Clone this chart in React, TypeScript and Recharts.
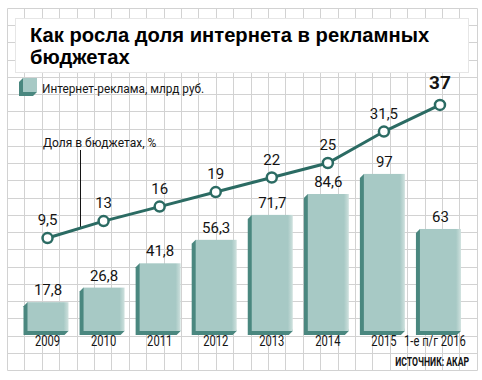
import { Bar, ComposedChart, LabelList, Line, XAxis, YAxis } from 'recharts';

// values
const YEARS = ['2009', '2010', '2011', '2012', '2013', '2014', '2015', '1-е п/г 2016'];
const AD_SPEND = [17.8, 26.8, 41.8, 56.3, 71.7, 84.6, 97, 63]; // млрд руб.
const BUDGET_SHARE = [9.5, 13, 16, 19, 22, 25, 31.5, 37]; // %

const data = YEARS.map((year, i) => ({ year, spend: AD_SPEND[i], share: BUDGET_SHARE[i] }));

const FACE = '#a7c9c5';
const SIDE = '#4a877f';
const LINE = '#2b6b63';
const INK = '#141414';
const DIN = "Roboto, 'Liberation Sans', sans-serif";

const W = 482;
const H = 380;

const fmt = (v: number) => String(v).replace('.', ',');

// no narrow font installed: squeeze Roboto horizontally around the anchor
function Narrow({ x, y, sx, anchor = 'start', size = 14, weight = 400, children }: any) {
  return (
    <text
      transform={`translate(${x},${y}) scale(${sx},1)`}
      textAnchor={anchor}
      fontFamily={DIN}
      fontSize={size}
      fontWeight={weight}
      fill={INK}
    >
      {children}
    </text>
  );
}

function Bar3D(props: any) {
  const { x, y, width, height } = props;
  if (!height) return null;
  const d = 4;
  return (
    <g>
      <path
        d={`M${x},${y} L${x - d},${y + d} L${x - d},${y + height + d} L${x + width - d},${y + height + d} L${x + width},${y + height} Z`}
        fill={SIDE}
      />
      <rect x={x} y={y} width={width} height={height} fill="url(#barFace)" />
    </g>
  );
}

function SpendLabel(props: any) {
  const vb = props.viewBox || {};
  const x = (props.x ?? vb.x) + (props.width ?? vb.width) / 2;
  const y = props.y ?? vb.y;
  return (
    <text x={x} y={y - 7} textAnchor="middle" fontFamily={DIN} fontSize={15} fill={INK}>
      {fmt(props.value)}
    </text>
  );
}

function ShareLabel(props: any) {
  const vb = props.viewBox || {};
  const x = props.x ?? vb.x;
  const y = props.y ?? vb.y;
  const last = props.index === BUDGET_SHARE.length - 1;
  return (
    <text
      x={x}
      y={y - (last ? 16 : 13)}
      textAnchor="middle"
      fontFamily={DIN}
      fontSize={last ? 19 : 15}
      fontWeight={last ? 700 : 400}
      fill={INK}
    >
      {fmt(props.value)}
    </text>
  );
}

function YearTick(props: any) {
  const { x, y, payload } = props;
  const last = payload.value === YEARS[YEARS.length - 1];
  return (
    <Narrow x={last ? x - 5 : x} y={y + 15} sx={0.8} anchor="middle">
      {payload.value}
    </Narrow>
  );
}

function Backdrop() {
  const cols = Array.from({ length: 28 }, (_, i) => Math.round(7 + i * 17.4) + 0.5);
  const rows = Array.from({ length: 22 }, (_, j) => Math.round(8 + j * 17.24) + 0.5);
  return (
    <svg width={W} height={H} style={{ position: 'absolute', left: 0, top: 0 }}>
      <rect width={W} height={H} fill="#fff" />
      {cols.map((cx) => (
        <line key={'c' + cx} x1={cx} x2={cx} y1={rows[0]} y2={rows[rows.length - 1]} stroke="#d2d2d2" />
      ))}
      {rows.map((ry) => (
        <line key={'r' + ry} x1={cols[0]} x2={cols[cols.length - 1]} y1={ry} y2={ry} stroke="#d2d2d2" />
      ))}
      <rect x={15.5} y={18.5} width={453} height={54} fill="#fff" stroke="#e6e6e6" />
      <text fontFamily="'Liberation Sans', Arial, sans-serif" fontWeight={700} fontSize={20.2} fill="#000">
        <tspan x={30} y={42}>Как росла доля интернета в рекламных</tspan>
        <tspan x={30} y={63.5}>бюджетах</tspan>
      </text>

      <path d="M23,78 L19,82 L19,96 L33,96 L37,92 L23,92 Z" fill={SIDE} />
      <rect x={23} y={78} width={14} height={14} fill={FACE} />
      <Narrow x={42} y={93} sx={0.875} size={13.5}>
        Интернет-реклама, млрд руб.
      </Narrow>

      <Narrow x={43} y={147} sx={0.89} size={13.5}>
        Доля в бюджетах, %
      </Narrow>
      <line x1={80.5} x2={80.5} y1={150} y2={229} stroke={INK} strokeWidth={1} />

      <Narrow x={469} y={366} sx={0.72} anchor="end" size={12} weight={700}>
        ИСТОЧНИК: АКАР
      </Narrow>
    </svg>
  );
}

export default function App() {
  return (
    <div style={{ position: 'absolute', left: 0, top: 0, width: W, height: H }}>
      <Backdrop />
      <div style={{ position: 'absolute', left: 0, top: 0 }}>
        <ComposedChart width={W} height={H} data={data} margin={{ top: 80, right: 14, left: 19.5, bottom: 19 }}>
          <defs>
            <linearGradient id="barFace" x1="0" y1="0" x2="1" y2="0">
              <stop offset="0" stopColor={FACE} />
              <stop offset="0.88" stopColor={FACE} />
              <stop offset="1" stopColor="#cfe1de" />
            </linearGradient>
          </defs>
          <XAxis
            dataKey="year"
            interval={0}
            axisLine={false}
            tickLine={false}
            tickSize={0}
            tickMargin={0}
            height={30}
            tick={<YearTick />}
          />
          <YAxis yAxisId="spend" hide domain={[0, 155]} />
          <YAxis yAxisId="share" hide domain={[-9.7, 42.15]} orientation="right" />
          <Bar yAxisId="spend" dataKey="spend" barSize={41} shape={<Bar3D />} isAnimationActive={false}>
            <LabelList dataKey="spend" content={<SpendLabel />} />
          </Bar>
          <Line
            yAxisId="share"
            dataKey="share"
            stroke={LINE}
            strokeWidth={3}
            dot={{ r: 5, fill: '#fff', stroke: LINE, strokeWidth: 2.5 }}
            activeDot={false}
            isAnimationActive={false}
          >
            <LabelList dataKey="share" content={<ShareLabel />} />
          </Line>
        </ComposedChart>
      </div>
    </div>
  );
}
